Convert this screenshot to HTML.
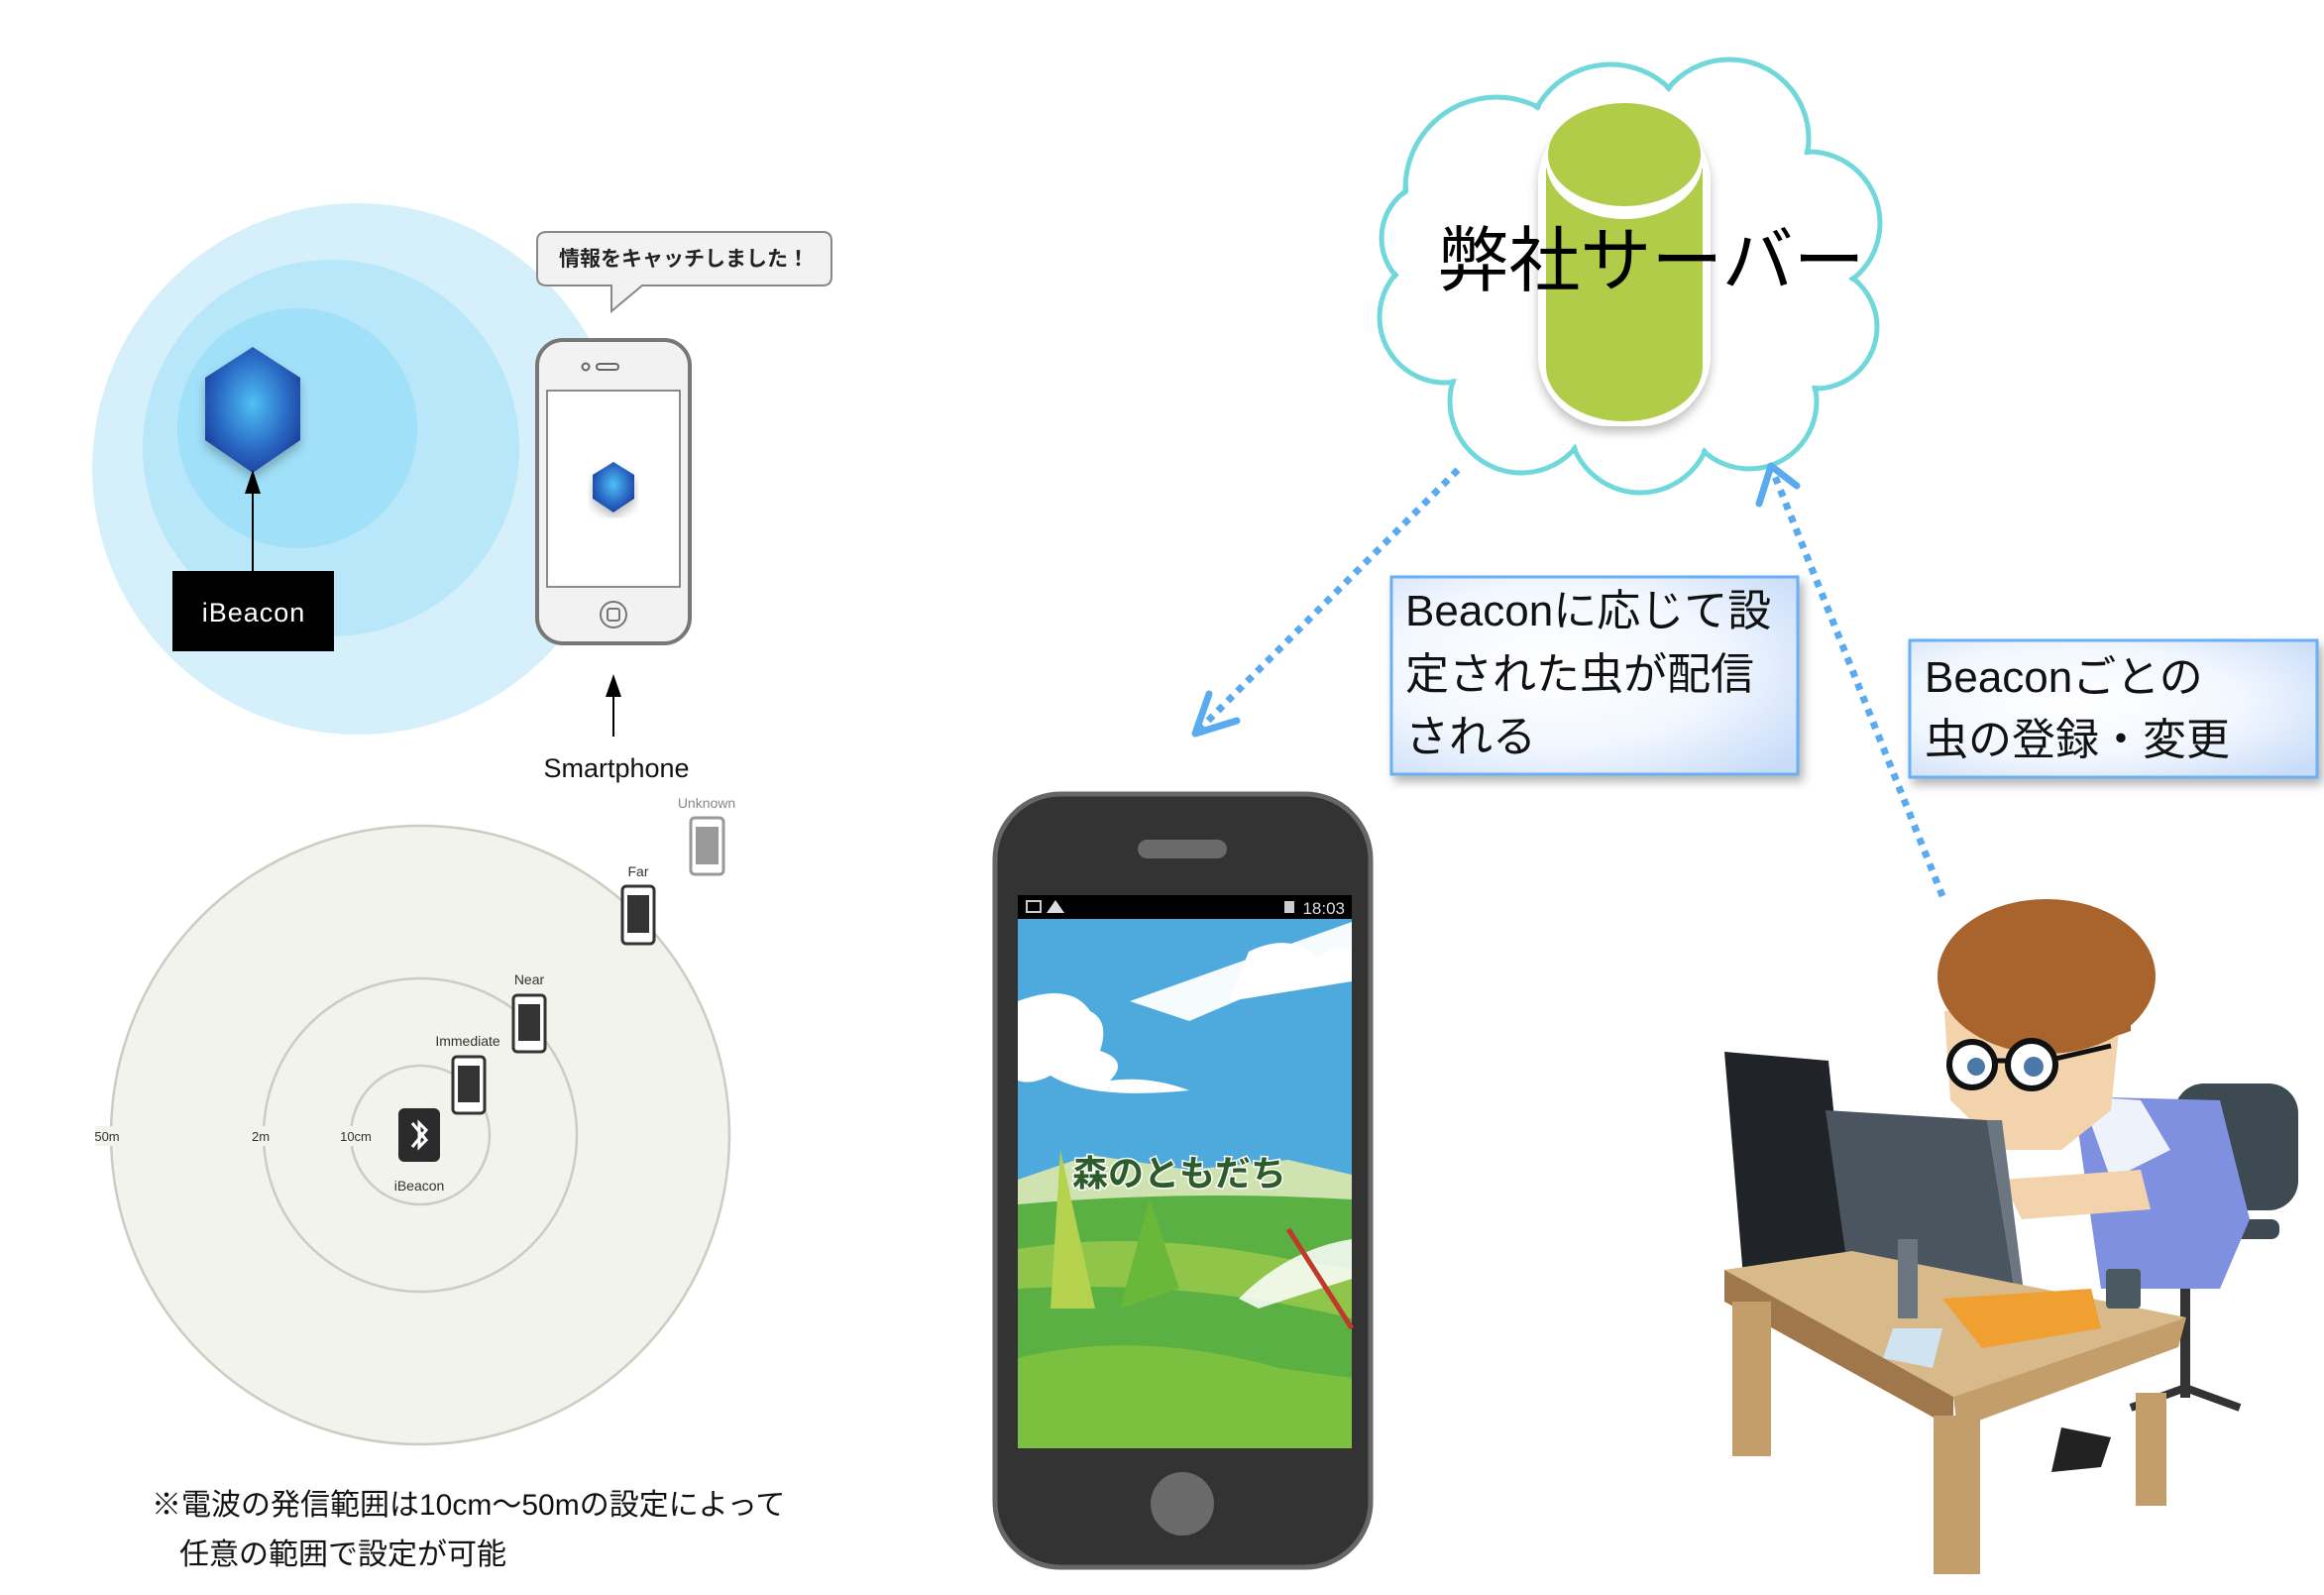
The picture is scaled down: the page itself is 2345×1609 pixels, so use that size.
<!DOCTYPE html>
<html><head><meta charset="utf-8"><style>
html,body{margin:0;padding:0;background:#fff;}
svg{display:block;}
text{font-family:"Liberation Sans","Noto Sans CJK JP",sans-serif;}
</style></head><body>
<svg width="2345" height="1609" viewBox="0 0 2345 1609" xmlns="http://www.w3.org/2000/svg">
<defs>
<radialGradient id="hexg" cx="50%" cy="45%" r="60%"><stop offset="0" stop-color="#4fc0f4"/><stop offset="0.6" stop-color="#2a6cc6"/><stop offset="1" stop-color="#1b3a98"/></radialGradient>
<radialGradient id="boxg" cx="40%" cy="45%" r="75%"><stop offset="0" stop-color="#ffffff"/><stop offset="0.55" stop-color="#f2f7ff"/><stop offset="1" stop-color="#c8dcf8"/></radialGradient>
<filter id="sh" x="-10%" y="-10%" width="130%" height="130%"><feDropShadow dx="4" dy="6" stdDeviation="5" flood-color="#000" flood-opacity="0.3"/></filter>
<filter id="sh2"><feDropShadow dx="0" dy="6" stdDeviation="5" flood-color="#000" flood-opacity="0.25"/></filter>
</defs>

<!-- iBeacon range circles -->
<circle cx="361" cy="473" r="268" fill="#d5f0fa"/>
<circle cx="334" cy="452" r="190" fill="#b7e7f9"/>
<circle cx="300" cy="432" r="121" fill="#a0e0f8"/>
<polygon points="255,350 303,381 303,444 255,477 207,444 207,381" fill="url(#hexg)" filter="url(#sh2)"/>
<line x1="255" y1="576" x2="255" y2="495" stroke="#000" stroke-width="2"/>
<polygon points="255,474 247,498 263,498" fill="#000"/>
<rect x="174" y="576" width="163" height="81" fill="#000"/>
<text x="256" y="627" font-size="27" fill="#fff" text-anchor="middle" letter-spacing="1">iBeacon</text>

<!-- speech bubble -->
<path d="M552,234 H830 Q839,234 839,243 V279 Q839,288 830,288 H648 L617,314 L617,288 H552 Q542,288 542,279 V243 Q542,234 552,234 Z" fill="#f2f2f2" stroke="#888" stroke-width="2"/>
<text x="690" y="268" font-size="21" fill="#222" text-anchor="middle" font-weight="bold">情報をキャッチしました！</text>

<!-- small phone -->
<rect x="542" y="343" width="154" height="306" rx="26" fill="#f2f2f2" stroke="#777" stroke-width="4"/>
<rect x="552" y="394" width="134" height="198" fill="#fff" stroke="#666" stroke-width="1.5"/>
<circle cx="591" cy="370" r="3.5" fill="none" stroke="#666" stroke-width="2"/>
<rect x="602" y="367" width="22" height="6" rx="3" fill="none" stroke="#666" stroke-width="2"/>
<circle cx="619" cy="620" r="13" fill="none" stroke="#777" stroke-width="2"/>
<rect x="613" y="614" width="12" height="12" rx="2" fill="none" stroke="#777" stroke-width="2"/>
<polygon points="619,466 640,479 640,503 619,517 598,503 598,479" fill="url(#hexg)" filter="url(#sh2)"/>
<line x1="619" y1="743" x2="619" y2="700" stroke="#000" stroke-width="2"/>
<polygon points="619,680 611,703 627,703" fill="#000"/>
<text x="622" y="784" font-size="27" fill="#111" text-anchor="middle">Smartphone</text>

<!-- proximity circles -->
<circle cx="424" cy="1145" r="312" fill="#f2f3ec" stroke="#c9cdc2" stroke-width="2.5"/>
<circle cx="424" cy="1145" r="158" fill="none" stroke="#c9cdc2" stroke-width="2.5"/>
<circle cx="424" cy="1145" r="70" fill="none" stroke="#c9cdc2" stroke-width="2.5"/>
<rect x="96" y="1136" width="26" height="20" fill="#f2f3ec"/>
<rect x="254" y="1136" width="20" height="20" fill="#f2f3ec"/>
<rect x="344" y="1136" width="30" height="20" fill="#f2f3ec"/>
<text x="108" y="1151" font-size="13" fill="#333" text-anchor="middle">50m</text>
<text x="263" y="1151" font-size="13" fill="#333" text-anchor="middle">2m</text>
<text x="359" y="1151" font-size="13" fill="#333" text-anchor="middle">10cm</text>
<rect x="402" y="1118" width="42" height="54" rx="6" fill="#2b2b2b"/>
<path d="M416,1133 L430,1150 L423,1157 V1133 L430,1140 L416,1157" fill="none" stroke="#fff" stroke-width="3"/>
<text x="423" y="1201" font-size="14" fill="#333" text-anchor="middle">iBeacon</text>
<g fill="#fff" stroke="#333" stroke-width="3">
<rect x="457" y="1066" width="32" height="57" rx="4"/>
<rect x="518" y="1004" width="32" height="57" rx="4"/>
<rect x="628" y="894" width="32" height="58" rx="4"/>
</g>
<g fill="#333"><rect x="462" y="1075" width="22" height="37"/><rect x="523" y="1013" width="22" height="37"/><rect x="633" y="903" width="22" height="38"/></g>
<rect x="697" y="825" width="33" height="57" rx="4" fill="#fff" stroke="#999" stroke-width="3"/>
<rect x="702" y="834" width="23" height="38" fill="#999"/>
<text x="472" y="1055" font-size="14" fill="#333" text-anchor="middle">Immediate</text>
<text x="534" y="993" font-size="14" fill="#333" text-anchor="middle">Near</text>
<text x="644" y="884" font-size="14" fill="#333" text-anchor="middle">Far</text>
<text x="713" y="815" font-size="14" fill="#888" text-anchor="middle">Unknown</text>

<text x="153" y="1528" font-size="30" fill="#111">※電波の発信範囲は10cm〜50mの設定によって</text>
<text x="181" y="1578" font-size="30" fill="#111">任意の範囲で設定が可能</text>

<!-- big phone -->
<rect x="1004" y="801" width="379" height="780" rx="66" fill="#333" stroke="#666" stroke-width="5"/>
<rect x="1148" y="847" width="90" height="19" rx="9.5" fill="#6a6a6a"/>
<circle cx="1193" cy="1517" r="32" fill="#6a6a6a"/>
<rect x="1027" y="903" width="337" height="24" fill="#000"/>
<text x="1357" y="922" font-size="17" fill="#ddd" text-anchor="end">18:03</text>
<rect x="1036" y="909" width="14" height="11" fill="none" stroke="#ccc" stroke-width="2"/>
<polygon points="1065,908 1074,921 1056,921" fill="#ddd"/>
<rect x="1296" y="909" width="10" height="12" fill="#ccc"/>
<rect x="1027" y="927" width="337" height="534" fill="#4eaadd"/>
<path d="M1140,1010 L1364,930 V960 L1200,1030 Z" fill="#fff" opacity="0.95"/>
<path d="M1260,960 Q1300,940 1330,965 Q1350,950 1364,960 V990 L1240,1010 Z" fill="#fff"/>
<path d="M1027,1010 Q1080,990 1100,1020 Q1120,1030 1110,1060 Q1140,1070 1120,1090 Q1160,1085 1200,1100 Q1100,1110 1060,1085 Q1040,1095 1027,1090 Z" fill="#fff"/>
<path d="M1027,1190 L1100,1165 L1200,1180 L1300,1170 L1364,1185 V1230 H1027 Z" fill="#cfe3b0"/>
<path d="M1027,1215 Q1200,1200 1364,1210 V1461 H1027 Z" fill="#5ab043"/>
<path d="M1027,1260 Q1150,1240 1300,1270 L1364,1280 V1330 Q1200,1290 1027,1300 Z" fill="#8fc64a"/>
<path d="M1027,1370 Q1150,1340 1290,1380 L1364,1390 V1461 H1027 Z" fill="#7cc040"/>
<path d="M1070,1160 L1105,1320 L1060,1320 Z" fill="#b5d24e"/>
<path d="M1160,1210 L1190,1300 L1130,1320 Z" fill="#6ab83a"/>
<path d="M1250,1310 Q1300,1260 1364,1250 V1290 Q1300,1310 1270,1320 Z" fill="#fff" opacity="0.85"/>
<line x1="1300" y1="1240" x2="1364" y2="1340" stroke="#c0392b" stroke-width="5"/>
<text x="1190" y="1196" font-size="36" font-weight="bold" fill="#2c5c2c" stroke="#fff" stroke-width="3" paint-order="stroke" text-anchor="middle">森のともだち</text>

<!-- cloud -->
<g fill="none" stroke="#70d8db" stroke-width="5">
<circle cx="1510" cy="190" r="92"/><circle cx="1625" cy="150" r="85"/><circle cx="1745" cy="140" r="80"/>
<circle cx="1825" cy="225" r="72"/><circle cx="1832" cy="330" r="62"/><circle cx="1765" cy="405" r="68"/>
<circle cx="1655" cy="425" r="72"/><circle cx="1535" cy="405" r="72"/><circle cx="1458" cy="320" r="66"/><circle cx="1452" cy="240" r="58"/>
</g>
<g fill="#fff">
<circle cx="1510" cy="190" r="89"/><circle cx="1625" cy="150" r="82"/><circle cx="1745" cy="140" r="77"/>
<circle cx="1825" cy="225" r="69"/><circle cx="1832" cy="330" r="59"/><circle cx="1765" cy="405" r="65"/>
<circle cx="1655" cy="425" r="69"/><circle cx="1535" cy="405" r="69"/><circle cx="1458" cy="320" r="63"/><circle cx="1452" cy="240" r="55"/>
<ellipse cx="1640" cy="290" rx="190" ry="150"/>
</g>
<!-- cylinder -->
<g filter="url(#sh2)">
<rect x="1552" y="112" width="174" height="318" rx="72" fill="#fff"/>
</g>
<path d="M1560,170 V370 A79,55 0 0 0 1718,370 V170 Z" fill="#b0cc48"/>
<ellipse cx="1639" cy="163" rx="79" ry="58" fill="#fff"/>
<ellipse cx="1639" cy="156" rx="77" ry="52" fill="#b0cc48"/>
<text x="1666" y="288" font-size="72" fill="#000" text-anchor="middle">弊社サーバー</text>

<!-- dotted arrows -->
<line x1="1471" y1="474" x2="1212" y2="734" stroke="#5aaaf0" stroke-width="7" stroke-dasharray="7 7"/>
<polyline points="1248,727 1206,740 1220,700" fill="none" stroke="#5aaaf0" stroke-width="7" stroke-linecap="round" stroke-linejoin="round"/>
<line x1="1960" y1="904" x2="1790" y2="478" stroke="#5aaaf0" stroke-width="7" stroke-dasharray="7 7"/>
<polyline points="1775,508 1787,470 1813,490" fill="none" stroke="#5aaaf0" stroke-width="7" stroke-linecap="round" stroke-linejoin="round"/>

<!-- text boxes -->
<rect x="1404" y="582" width="410" height="199" fill="url(#boxg)" stroke="#6ab0f2" stroke-width="3" filter="url(#sh)"/>
<text font-size="44" fill="#111"><tspan x="1418" y="631">Beaconに応じて設</tspan><tspan x="1418" y="695">定された虫が配信</tspan><tspan x="1418" y="758">される</tspan></text>
<rect x="1927" y="646" width="411" height="138" fill="url(#boxg)" stroke="#6ab0f2" stroke-width="3" filter="url(#sh)"/>
<text font-size="44" fill="#111"><tspan x="1942" y="698">Beaconごとの</tspan><tspan x="1942" y="761">虫の登録・変更</tspan></text>

<!-- person at desk -->
<g>
<!-- chair -->
<rect x="2194" y="1093" width="125" height="128" rx="30" fill="#3d4a52"/>
<rect x="2200" y="1230" width="100" height="20" rx="8" fill="#3d4a52"/>
<rect x="2200" y="1300" width="10" height="110" fill="#333"/>
<path d="M2205,1400 L2260,1420 M2205,1400 L2150,1420" stroke="#333" stroke-width="8"/>
<!-- body -->
<path d="M2092,1106 L2240,1110 L2270,1230 L2240,1300 L2120,1300 Z" fill="#7f90e0"/>
<path d="M2100,1106 L2160,1110 L2190,1160 L2130,1190 Z" fill="#eef2fb"/>
<path d="M2020,1190 L2160,1180 L2170,1220 L2040,1230 Z" fill="#f3d3ac"/>
<!-- legs/shoe -->
<path d="M2080,1440 L2130,1450 L2120,1480 L2070,1485 Z" fill="#222"/>
<!-- face and hair -->
<path d="M1962,1020 L2140,1020 L2130,1120 L2080,1160 L2020,1160 L1968,1110 Z" fill="#f3d3ac"/>
<ellipse cx="2065" cy="985" rx="110" ry="78" fill="#a8642c"/>
<path d="M1960,1000 Q2000,1060 2050,1030 Q2100,1060 2150,1040 L2150,990 L1960,980 Z" fill="#a8642c"/>
<circle cx="1990" cy="1074" r="23" fill="#fff" stroke="#111" stroke-width="6"/>
<circle cx="2050" cy="1074" r="24" fill="#fff" stroke="#111" stroke-width="6"/>
<circle cx="1994" cy="1076" r="9" fill="#4a78a8"/><circle cx="2052" cy="1076" r="10" fill="#4a78a8"/>
<line x1="2013" y1="1070" x2="2026" y2="1070" stroke="#111" stroke-width="5"/>
<line x1="2074" y1="1068" x2="2130" y2="1055" stroke="#111" stroke-width="5"/>
<!-- monitors -->
<path d="M1740,1061 L1845,1070 L1869,1304 L1760,1300 Z" fill="#202428"/>
<path d="M1842,1120 L2005,1130 L2037,1327 L1870,1320 Z" fill="#4a5560"/>
<path d="M2005,1130 L2020,1130 L2045,1327 L2037,1327 Z" fill="#6b7680"/>
<!-- desk -->
<polygon points="1740,1281 1869,1262 2206,1329 1971,1409" fill="#d7b98a"/>
<polygon points="1740,1281 1971,1409 1971,1441 1740,1313" fill="#a0774a"/>
<polygon points="1971,1409 2206,1329 2198,1359 1975,1441" fill="#c49e6a"/>
<rect x="1748" y="1313" width="39" height="156" fill="#c49e6a"/>
<rect x="1951" y="1428" width="47" height="160" fill="#c49e6a"/>
<rect x="2155" y="1405" width="31" height="114" fill="#c49e6a"/>
<polygon points="1910,1340 1960,1340 1950,1380 1900,1370" fill="#cfe4f0"/>
<polygon points="1960,1310 2110,1300 2120,1340 2000,1360" fill="#f0a030"/>
<rect x="2125" y="1280" width="35" height="40" rx="4" fill="#4a5a60"/>
<rect x="1915" y="1250" width="20" height="80" fill="#6b7680"/>
</g>
</svg>
</body></html>
